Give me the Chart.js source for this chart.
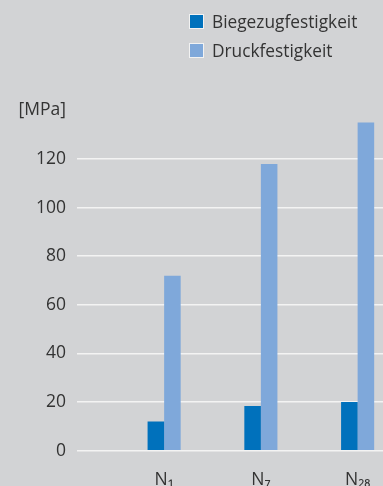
<!DOCTYPE html>
<html>
<head>
<meta charset="utf-8">
<script src="https://cdn.jsdelivr.net/npm/chart.js@4.4.1/dist/chart.umd.min.js"></script>
<style>
  html, body { margin: 0; padding: 0; background: #d2d3d5; overflow: hidden; }
  #wrap { position: relative; width: 383px; height: 486px; overflow: hidden; }
  #box { position: absolute; left: 0; top: 0; width: 406px; height: 500px; }
  #legend { position: absolute; left: 189px; top: 7px; font-family: 'Open Sans', 'Noto Sans', sans-serif; font-size: 17.3px; color: #333; }
  #legend .item { display: flex; align-items: center; height: 29px; }
  #legend .sw { width: 13px; height: 13px; border: 1px solid #f2f2f2; margin-right: 8px; box-sizing: content-box; }
</style>
</head>
<body>
<div id="wrap">
  <div id="box"><canvas id="c"></canvas></div>
  <div id="legend"></div>
</div>
<script>
// Strength development by curing age
const categories = ['N\u2081', 'N\u2087', 'N\u2082\u2088'];
const biegezug = [12, 18.4, 20];
const druck = [72, 118, 135];
const seriesNames = ['Biegezugfestigkeit', 'Druckfestigkeit'];
const seriesColors = ['#0071bc', '#7fa8da'];
const yTicks = [0, 20, 40, 60, 80, 100, 120, 140];
const unitLabel = '[MPa]';

const FONT = { family: "'Open Sans', 'Noto Sans', sans-serif", size: 17.5 };
const gridColor = (ctx) => (ctx.tick && ctx.tick.value === 140) ? 'rgba(0,0,0,0)' : '#f3f3f3';

const chart = new Chart(document.getElementById('c'), {
  type: 'bar',
  data: {
    labels: categories,
    datasets: [
      { label: seriesNames[0], data: biegezug, backgroundColor: seriesColors[0] },
      { label: seriesNames[1], data: druck, backgroundColor: seriesColors[1] }
    ]
  },
  options: {
    responsive: true,
    maintainAspectRatio: false,
    animation: false,
    datasets: { bar: { categoryPercentage: 0.342, barPercentage: 1.0 } },
    layout: { padding: { top: 110.4, left: 0, right: 0, bottom: 0 } },
    plugins: { legend: { display: false }, tooltip: { enabled: false } },
    scales: {
      x: {
        grid: { display: false, drawTicks: false },
        border: { display: false },
        ticks: { color: '#333', font: FONT, padding: 19, maxRotation: 0 },
        afterFit: (s) => { s.height = 500 - 450.7; }
      },
      y: {
        min: 0, max: 140,
        afterBuildTicks: (s) => { s.ticks = yTicks.map(v => ({ value: v })); },
        afterFit: (s) => { s.width = 115.75; },
        border: { display: false },
        grid: { color: gridColor, tickColor: gridColor, lineWidth: 1.6, drawTicks: true, tickLength: 38.75 },
        ticks: {
          color: '#333', font: FONT, padding: 11,
          callback: (v) => v === 140 ? unitLabel : v
        }
      }
    }
  }
});

// legend built from the chart's own datasets
const legend = document.getElementById('legend');
chart.data.datasets.forEach(ds => {
  const row = document.createElement('div');
  row.className = 'item';
  const sw = document.createElement('span');
  sw.className = 'sw';
  sw.style.background = ds.backgroundColor;
  const t = document.createElement('span');
  t.textContent = ds.label;
  row.appendChild(sw);
  row.appendChild(t);
  legend.appendChild(row);
});
</script>
</body>
</html>
